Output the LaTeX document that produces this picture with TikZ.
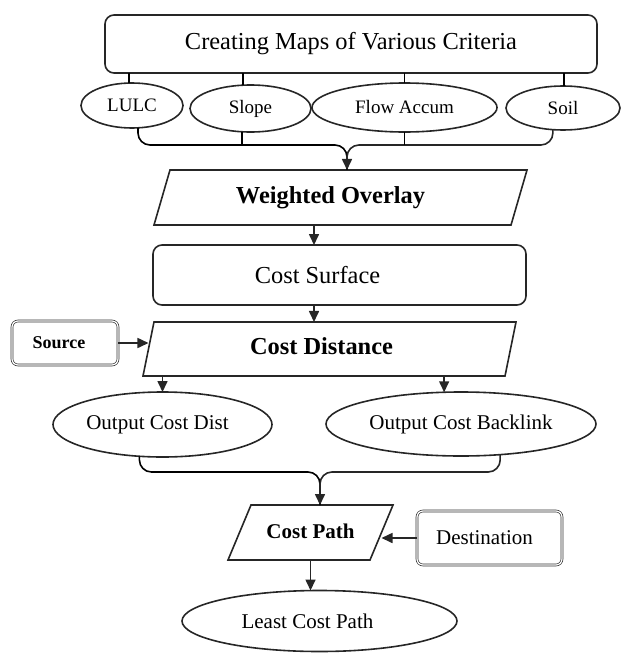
\documentclass[tikz,border=0pt]{standalone}
\usepackage{fontspec}
\setmainfont{Liberation Serif}
\usetikzlibrary{positioning,arrows.meta,shapes.geometric,calc}
\newcommand{\lgfont}{\fontsize{24.4}{28}\selectfont}
\newcommand{\mdfont}{\fontsize{21}{24}\selectfont}
\newcommand{\smfont}{\fontsize{19}{22}\selectfont}
\newcommand{\nudge}[2]{\hspace*{-#1}#2\hspace*{#1}}

\begin{document}
\begin{tikzpicture}[
		x=1pt, y=-1pt,
		line width=1.6pt,
		every node/.style={
			draw=black!85,
			outer sep=0pt,
			inner sep=0pt,
			line width=1.6pt
		},
		box/.style={rectangle, rounded corners=9pt},
		oval/.style={ellipse},
		slanted/.style={trapezium, trapezium stretches body, text height=16pt, text depth=5pt, font=\lgfont\bfseries},
		input/.style={rectangle, rounded corners=6pt, double=white, double distance=1.2pt, line width=0.7pt, draw=black!80},
		arr/.style={-{Triangle[length=11pt,width=10pt]}, draw=black!85}
		]
		
		\useasboundingbox (0,0) rectangle (621,653);
		
		\node[box, minimum width=492pt, minimum height=58pt, font=\lgfont] (maps) at (351,44) {Creating Maps of Various Criteria};
		
		\node[oval, minimum width=102pt, minimum height=45pt, font=\smfont] (lulc) at (132,105.5) {LULC};
		\node[oval, minimum width=121pt, minimum height=47pt, font=\smfont] (slope) at (250.5,108.5) {Slope};
		\node[oval, minimum width=185pt, minimum height=49pt, font=\smfont] (flow) at (404.5,107.5) {Flow Accum};
		\node[oval, minimum width=114pt, minimum height=44pt, font=\smfont] (soil) at (563,108) {Soil};
		
		\node[slanted, trapezium left angle=73.8, trapezium right angle=106.2, minimum width=373pt, inner ysep=17pt] (wo) at (340.5,197.5) {\nudge{10pt}{Weighted Overlay}};
		
		\node[box, minimum width=373pt, minimum height=60pt, font=\lgfont] (cs) at (339.5,275) {\nudge{22pt}{Cost Surface}};
		
		\node[slanted, trapezium left angle=78.5, trapezium right angle=101.5, minimum width=373pt, inner ysep=16.5pt] (cd) at (329.5,349) {\nudge{8pt}{Cost Distance}};
		
		\node[input, minimum width=106pt, minimum height=44pt, font=\fontsize{18}{21}\selectfont\bfseries] (source) at (65,343) {\nudge{6pt}{Source}};
		
		\node[oval, minimum width=219pt, minimum height=65pt, font=\mdfont] (odist) at (162.5,424.5) {\nudge{5pt}{Output Cost Dist}};
		\node[oval, minimum width=270pt, minimum height=64pt, font=\mdfont] (oback) at (461,424) {Output Cost Backlink};
		
		\node[slanted, font=\mdfont\bfseries, trapezium left angle=67.3, trapezium right angle=112.7, minimum width=165pt, inner ysep=17pt] (cp) at (310.5,532.5) {Cost Path};
		
		\node[input, minimum width=145pt, minimum height=54pt, font=\mdfont] (dest) at (489.5,538) {\nudge{5pt}{Destination}};
		
		\node[oval, minimum width=275pt, minimum height=61pt, font=\mdfont] (lcp) at (319.5,621) {\nudge{12pt}{Least Cost Path}};
		
		\coordinate (join1) at (347,145);
		\coordinate (join2) at (320,472);
		\coordinate (spine) at (314,0);
		
		% criteria maps
		\foreach \c/\a in {lulc/98, slope/108, flow/90, soil/87}
			\draw (\c.\a |- maps.south) -- (\c.\a);
		
		\draw[rounded corners=12pt] (lulc.-75) |- (join1) -- (join1 |- wo.north);
		\draw[rounded corners=12pt, arr] (soil.-115) |- (join1) -- (join1 |- wo.north);
		\draw (slope.-110) -- (slope.-110 |- join1);
		\draw (flow.south) -- (flow.south |- join1);
		
		% main column
		\draw[arr] (wo.south -| spine) -- (cs.north -| spine);
		\draw[arr] (cs.south -| spine) -- (cd.north -| spine);
		\draw[arr] (source.east) -- (source.east -| cd.west);
		
		\draw[arr] (odist.north |- cd.south) -- (odist.north);
		\draw[arr] (oback.118 |- cd.south) -- (oback.118);
		
		\draw[rounded corners=12pt] (odist.-126) |- (join2) -- (join2 |- cp.north);
		\draw[rounded corners=12pt, arr] (oback.-38) |- (join2) -- (join2 |- cp.north);
		
		\draw[arr] (dest.west) -- (dest.west -| cp.east);
		\draw[arr] (cp.south) -- (cp.south |- lcp.north);
		
	\end{tikzpicture}
\end{document}
